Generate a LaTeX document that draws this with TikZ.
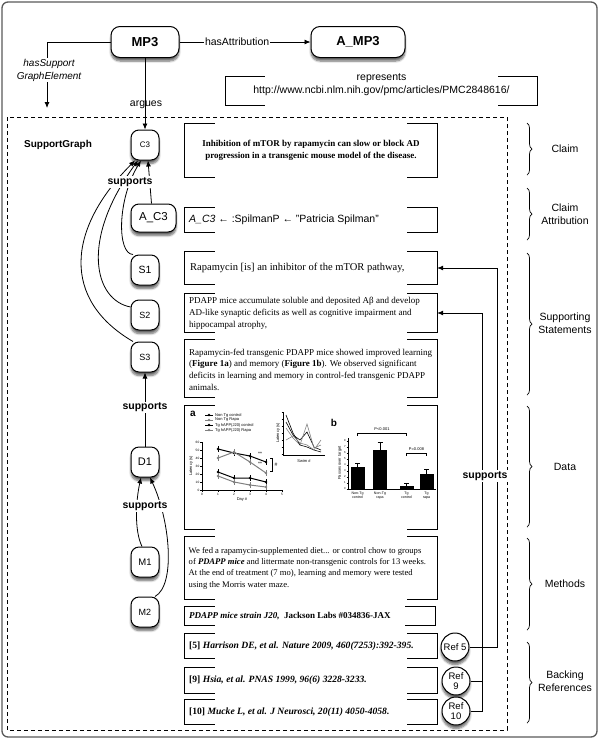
\documentclass[tikz,border=0pt]{standalone}
\usepackage{fontspec}
\setmainfont{Liberation Sans}
\newfontfamily\tnr{Liberation Serif}
\usetikzlibrary{arrows.meta,shadows,shadows.blur,decorations.pathreplacing}
\newcommand\fsz[1]{\fontsize{#1}{#1}\selectfont}
\newcommand\brk[2]{%
  \draw[boxline] ([xshift=#2pt]#1.north west) -- (#1.north west) -- (#1.south west) -- ([xshift=#2pt]#1.south west);
  \draw[boxline] ([xshift=-#2pt]#1.north east) -- (#1.north east) -- (#1.south east) -- ([xshift=-#2pt]#1.south east);}
\begin{document}
\begin{tikzpicture}[x=1pt,y=-1pt,
  shad/.style={blur shadow={shadow xshift=0pt, shadow yshift=-3.5pt, shadow blur steps=6, shadow opacity=60}},
  gnode/.style={draw, line width=1pt, rounded corners=8pt, fill=white, minimum width=28pt, minimum height=30pt, inner sep=1pt, shad},
  bignode/.style={gnode, rounded corners=9pt, minimum height=31pt, font=\bfseries\fsz{13}},
  tbox/.style={minimum width=252pt, inner sep=0pt},
  boxline/.style={line width=0.9pt},
  arr/.style={-{Latex[length=6pt,width=5pt]}, line width=0.8pt},
  sup/.style={font=\bfseries\fsz{10.5}, fill=white, inner sep=1pt},
  refc/.style={circle, draw, line width=1pt, fill=white, minimum size=28pt, inner sep=0pt, shad, font=\fontsize{9.5}{10.5}\selectfont, align=center},
  side/.style={font=\fontsize{10.5}{12.5}\selectfont, align=center},
  brace/.style={decorate, decoration={brace, amplitude=5pt}, line width=0.7pt},
  tiny/.style={font=\fsz{4}, inner sep=0pt},
  txt/.style={anchor=west, inner sep=0pt, align=left}
]
\useasboundingbox (0,0) rectangle (600,740);
\draw[black!65, line width=1.3pt, rounded corners=6pt] (2,2) rectangle (597,737);

% top nodes
\node[bignode, minimum width=68pt] (mp3) at (145,42) {MP3};
\node[bignode, minimum width=94pt] (amp3) at (358,42) {A\_MP3};
\draw[arr] (mp3) -- node[pos=0.44, fill=white, inner sep=1pt, font=\fsz{10.5}] (hasatt) {hasAttribution} (amp3);
\coordinate (hsgend) at (47,108);
\draw[arr] (mp3.west) -| (hsgend);
\node[fill=white, inner sep=1pt, align=center, font=\itshape\fontsize{10}{13}\selectfont] (hsglbl) at (49,70) {hasSupport\\GraphElement};

% represents box
\node[minimum width=311pt, minimum height=28pt, inner sep=0pt, font=\fsz{10.5}] (rep) at (381.5,91) {http://www.ncbi.nlm.nih.gov/pmc/articles/PMC2848616/};
\brk{rep}{39}
\node[font=\fsz{10.5}] (replbl) at (381.5,78) {represents};

% support graph box
\draw[dashed, dash pattern=on 4pt off 3pt, line width=1pt] (7,117) rectangle (507,730);
\node[font=\bfseries\fsz{10}] (sg) at (58,145) {SupportGraph};

% left nodes
\node[gnode, font=\fsz{8}] (c3) at (145,145) {C3};
\node[gnode, minimum width=45pt, minimum height=28pt, font=\fsz{11.5}] (ac3) at (153.5,218) {A\_C3};
\node[gnode, font=\fsz{10.5}] (s1) at (145,270) {S1};
\node[gnode, font=\fsz{9}] (s2) at (145,315) {S2};
\node[gnode, font=\fsz{9}] (s3) at (145,357) {S3};
\node[gnode, font=\fsz{11}] (d1) at (145,462) {D1};
\node[gnode, font=\fsz{9.5}] (m1) at (145,562) {M1};
\node[gnode, font=\fsz{9}] (m2) at (145,612) {M2};

\draw[arr] (mp3.south) -- (c3.north);
\node[font=\fsz{10.5}] (argues) at (146,105) {argues};

\draw[arr] ([xshift=-2pt]ac3.north) -- ([xshift=3pt]c3.south);
\draw[arr] ([xshift=-12pt]s1.north) .. controls (117,254) and (117,200) .. ([xshift=-4pt]c3.south);
\draw[arr] ([yshift=8pt]s2.west) .. controls (94,300) and (80,240) .. ([xshift=-7pt]c3.south);
\draw[arr] ([xshift=-12pt]s3.north) .. controls (62,300) and (66,230) .. ([xshift=-10pt]c3.south);
\node[sup] (sup1) at (130,182) {supports};

\draw[arr] (d1.north) -- node[sup, pos=0.53] (sup2) {supports} (s3.south);
\draw[arr] ([xshift=-3pt]m1.north) .. controls (134,530) and (136,500) .. ([xshift=-4pt]d1.south);
\draw[arr] ([xshift=10pt]m2.north) .. controls (176,585) and (170,520) .. ([xshift=5pt]d1.south);
\node[sup] (sup3) at (145,506) {supports};

% text boxes
\node[tbox, minimum height=53pt, align=center, font=\tnr\bfseries\fontsize{9}{12}\selectfont] (claimbox) at (311,150.5) {Inhibition of mTOR by rapamycin can slow or block AD\\progression in a transgenic mouse model of the disease.};
\brk{claimbox}{30}
\node[tbox, minimum height=24pt] (ac3box) at (311,220) {};
\brk{ac3box}{30}
\node[txt, font=\fsz{10.5}] (ac3txt) at (189,220) {\textit{A\_C3} ← :SpilmanP ← "Patricia Spilman"};
\node[tbox, minimum height=32pt] (s1box) at (311,268) {};
\brk{s1box}{30}
\node[txt, font=\tnr\fsz{10.5}] (s1txt) at (190,268) {Rapamycin [is] an inhibitor of the mTOR pathway,};
\node[tbox, minimum height=38pt] (s2box) at (311,313) {};
\brk{s2box}{30}
\node[txt, font=\tnr\fontsize{9}{12}\selectfont] (s2txt) at (189,313) {PDAPP mice accumulate soluble and deposited Aβ and develop\\AD-like synaptic deficits as well as cognitive impairment and\\hippocampal atrophy,};
\node[tbox, minimum height=57pt] (s3box) at (311,368.5) {};
\brk{s3box}{30}
\node[txt, font=\tnr\fontsize{9}{11.7}\selectfont] (s3txt) at (189,369.5) {Rapamycin-fed transgenic PDAPP mice showed improved learning\\(\textbf{Figure 1a}) and memory (\textbf{Figure 1b}). We observed significant\\deficits in learning and memory in control-fed transgenic PDAPP\\animals.};
\node[tbox, minimum height=123pt] (databox) at (311,467.5) {};
\brk{databox}{30}
\node[tbox, minimum height=62pt] (methbox) at (311,568) {};
\brk{methbox}{30}
\node[txt, font=\tnr\fontsize{8.6}{11.3}\selectfont] (methtxt) at (184.5,568) {\hspace{4pt}We fed a rapamycin-supplemented diet... or control chow to groups\\\hspace{4pt}of \textbf{\textit{PDAPP mice}} and littermate non-transgenic controls for 13 weeks.\\\hspace{4pt}At the end of treatment (7 mo), learning and memory were tested\\\hspace{4pt}using the Morris water maze.};
\node[tbox, minimum width=250pt, minimum height=18pt] (strainbox) at (310,616) {};
\brk{strainbox}{30}
\node[txt, font=\tnr\bfseries\fsz{9}] (straintxt) at (189,616) {\textit{PDAPP mice strain J20,}\ \ Jackson Labs \#034836-JAX};
\node[tbox, minimum height=24pt] (ref5box) at (311,646) {};
\brk{ref5box}{30}
\node[txt, font=\tnr\bfseries\fsz{9.6}] (ref5txt) at (189,646) {[5] \textit{Harrison DE, et al. Nature 2009, 460(7253):392-395.}};
\node[tbox, minimum height=25pt] (ref9box) at (311,680.5) {};
\brk{ref9box}{30}
\node[txt, font=\tnr\bfseries\fsz{9.6}] (ref9txt) at (189,680.5) {[9] \textit{Hsia, et al. PNAS 1999, 96(6) 3228-3233.}};
\node[tbox, minimum height=24pt] (ref10box) at (311,712) {};
\brk{ref10box}{30}
\node[txt, font=\tnr\bfseries\fsz{9.6}] (ref10txt) at (189,712) {[10] \textit{Mucke L, et al. J Neurosci, 20(11) 4050-4058.}};

% ref circles
\node[refc] (r5) at (455,647) {Ref 5};
\node[refc] (r9) at (456,681) {Ref\\9};
\node[refc] (r10) at (456,711) {Ref\\10};
\draw[arr] (r5.east) -| (497,268) -- (s1box.east);
\draw[arr] (r10.east) -| (482,313) -- (s2box.east);
\draw[line width=0.8pt] (r9.east) -- (482,681);
\node[sup] (sup4) at (485,476) {supports};

% braces and section labels
\draw[brace] (527,123) -- (527,175);
\node[side] (lclaim) at (565,149) {Claim};
\draw[brace] (527,188) -- (527,240);
\node[side] (lattr) at (565,214) {Claim\\Attribution};
\draw[brace] (527,253) -- (527,395);
\node[side] (lsupp) at (565,323) {Supporting\\Statements};
\draw[brace] (527,406) -- (527,527);
\node[side] (ldata) at (565,467) {Data};
\draw[brace] (527,538) -- (527,630);
\node[side] (lmeth) at (565,584) {Methods};
\draw[brace] (527,642) -- (527,723);
\node[side] (lback) at (565,681) {Backing\\References};

% ---- figure inside data box ----
\node[font=\bfseries\fsz{10}, inner sep=0pt] (pa) at (193,414) {a};
\foreach \yy/\col/\txt in {415/black/Non Tg control, 420/black!50/Non Tg Rapa, 425/black/Tg hAPP(J20) control, 430/black!50/Tg hAPP(J20) Rapa}{
  \draw[\col, line width=0.8pt] (205,\yy) -- (213,\yy);
  \fill[\col] (209,\yy) circle (1.4pt);
  \node[tiny, anchor=west] (leg\yy) at (215,\yy) {\txt};
}
\draw[line width=0.5pt] (202,442) -- (202,490) -- (282,490);
\foreach \t/\lab in {0/0,1/10,2/20,3/30,4/40,5/50,6/60}{
  \draw[line width=0.4pt] (200,490-\t*8) -- (202,490-\t*8);
  \node[tiny, font=\fsz{3.2}, anchor=east] (yt\t) at (199.5,490-\t*8) {\lab};
}
\foreach \t in {0,...,5}{
  \draw[line width=0.4pt] (202+\t*16,490) -- (202+\t*16,492);
  \node[tiny, font=\fsz{3.2}] (xt\t) at (202+\t*16,494.5) {\t};
}
\node[tiny] (dayl) at (242,499.5) {Day \#};
\node[tiny, rotate=90] (latl) at (191,466) {Latency (s)};
\draw[line width=1pt] (218,449) -- (234,453) -- (250,456) -- (266,462);
\draw[black!50, line width=1pt] (218,458) -- (234,452) -- (250,462) -- (266,473);
\draw[line width=1pt] (218,472) -- (234,478) -- (250,478) -- (266,482);
\draw[black!50, line width=1pt] (218,476) -- (234,482) -- (250,485) -- (266,487);
\foreach \px/\py/\col in {218/449/black,234/453/black,250/456/black,266/462/black,218/458/black!50,234/452/black!50,250/462/black!50,266/473/black!50,218/472/black,234/478/black,250/478/black,266/482/black,218/476/black!50,234/482/black!50,250/485/black!50,266/487/black!50}{
  \draw[\col, line width=0.4pt] (\px,\py-3) -- (\px,\py+3);
  \fill[\col] (\px,\py) circle (1.4pt);
}
\node[tiny, font=\fsz{5}] (st1) at (260,454) {**};
\node[tiny, font=\fsz{5}] (st2) at (260,464) {**};
\draw[line width=0.4pt] (270,458) -- (272,458) -- (272,471) -- (270,471);
\node[tiny, font=\fsz{5}] (hash) at (276,465) {\#};
% inset
\draw[line width=0.5pt] (283,412) -- (283,455) -- (325,455);
\foreach \t in {0,...,6}{\draw[line width=0.3pt] (281.5,412+\t*7) -- (283,412+\t*7);}
\draw[line width=0.6pt] (286,422) -- (293,435) -- (300,440) -- (307,432) -- (314,447) -- (321,450);
\draw[black!50, line width=0.6pt] (286,428) -- (293,438) -- (300,445) -- (307,424) -- (314,448) -- (321,445);
\draw[line width=0.6pt] (286,415) -- (293,433) -- (300,445) -- (307,447) -- (314,450) -- (321,452);
\draw[black!50, line width=0.6pt] (286,440) -- (293,436) -- (300,443) -- (307,445) -- (314,450) -- (321,440);
\node[tiny] (swim) at (304,461) {Swim \#};
\node[tiny, rotate=90] (latl2) at (278,433) {Latency (s)};
% panel b
\node[font=\bfseries\fsz{10}, inner sep=0pt] (pb) at (334,423) {b};
\draw[line width=0.5pt] (348,438) -- (348,489) -- (436,489);
\foreach \t/\lab in {0/0,1/1,2/2,3/3,4/4,5/5,6/6,7/7,8/8}{
  \draw[line width=0.3pt] (346.5,489-\t*6) -- (348,489-\t*6);
  \node[tiny, font=\fsz{2.8}, anchor=east] (bt\t) at (346,489-\t*6) {\lab};
}
\node[tiny, rotate=90] (passl) at (340,463) {Passes over target};
\foreach \cx/\top/\err in {357.5/467/463, 380/450/442, 406.5/486/483, 426.5/474/469}{
  \fill (\cx-7,\top) rectangle (\cx+7,489);
  \draw[line width=0.5pt] (\cx,\top) -- (\cx,\err) (\cx-2.5,\err) -- (\cx+2.5,\err);
}
\draw[line width=0.4pt] (357.5,436) -- (357.5,433) -- (406.5,433) -- (406.5,436);
\node[tiny] (p1) at (382,429) {P<0.001};
\draw[line width=0.4pt] (406.5,456) -- (406.5,453) -- (426.5,453) -- (426.5,456);
\node[tiny] (p2) at (416.5,449) {P=0.008};
\node[tiny, align=center, font=\fontsize{3.6}{4}\selectfont] (bl1) at (357.5,495.5) {Non-Tg\\control};
\node[tiny, align=center, font=\fontsize{3.6}{4}\selectfont] (bl2) at (380,495.5) {Non-Tg\\rapa};
\node[tiny, align=center, font=\fontsize{3.6}{4}\selectfont] (bl3) at (406.5,495.5) {Tg\\control};
\node[tiny, align=center, font=\fontsize{3.6}{4}\selectfont] (bl4) at (426.5,495.5) {Tg\\rapa};
\end{tikzpicture}
\end{document}
